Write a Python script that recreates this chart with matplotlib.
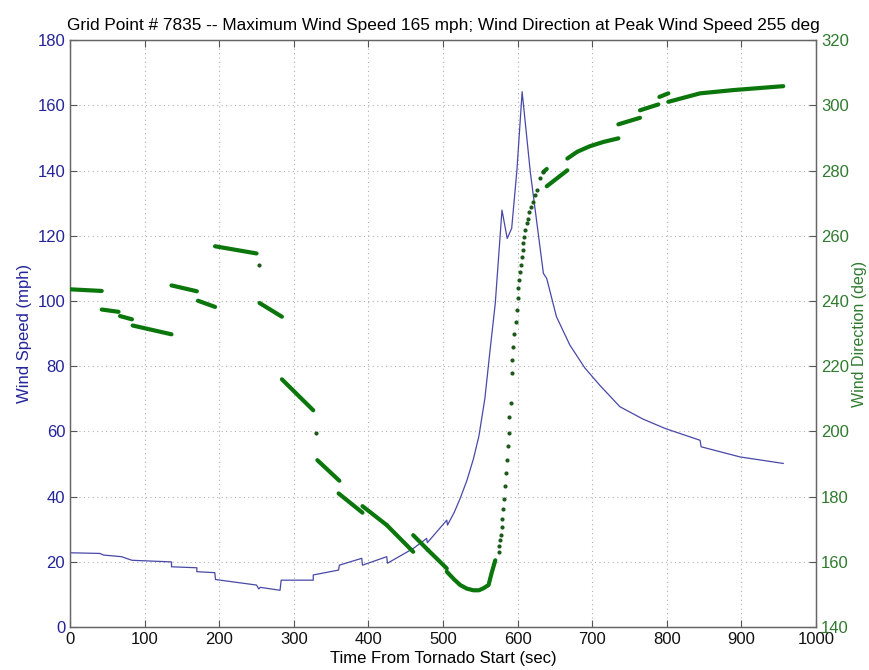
import numpy as np
import matplotlib
matplotlib.use('Agg')
import matplotlib.pyplot as plt

# ======= DATA =================================
TITLE = 'Grid Point # 7835 -- Maximum Wind Speed 165 mph; Wind Direction at Peak Wind Speed 255 deg'

# wind speed trace (sec, mph)
speed_t = [0, 40, 45, 69, 83, 136, 136, 170, 170, 194, 195, 250, 253, 255, 281.5, 283,
           326, 326, 360, 361, 391, 392, 424.5, 425.5, 460, 478, 479, 505, 506,
           515, 523, 532, 540.6, 548, 556, 563, 570, 579, 586, 592, 599, 606,
           617, 634.5, 639, 652, 670, 690, 710, 737, 768, 798, 844.5, 846, 898, 956]
speed_v = [22.8, 22.6, 22.1, 21.6, 20.5, 20.0, 18.5, 18.2, 17.0, 16.7, 14.6, 12.9, 11.7, 12.2, 11.3, 14.4,
           14.4, 16.0, 17.5, 19.0, 21.1, 19.0, 21.6, 19.6, 24.1, 27.2, 25.9, 32.8, 31.3,
           35.2, 39.5, 45.0, 51.5, 58.5, 70.0, 84.9, 99.3, 127.9, 119.2, 122.3, 140.1, 164.2,
           139.5, 108.5, 106.9, 95.2, 86.5, 79.5, 74.2, 67.6, 63.8, 60.9, 57.3, 55.3, 52.2, 50.2]

# wind direction: dense runs of samples (sec, deg)
dir_runs_t = [[0, 42.5], [42.5, 65], [67, 83], [84, 136], [136, 170], [171.5, 194.4],
              [194.4, 250], [254, 284], [284, 326], [331.5, 361], [360, 392], [392, 424.5],
              [424.5, 460], [460, 480], [480, 505],
              [505, 515, 523, 532, 540.6, 548, 554, 561, 565, 570],
              [634.5, 639], [639, 666.6], [666.6, 680, 697, 715, 735], [735, 764], [764, 788.6],
              [790, 802], [802, 844.5, 889, 956]]
dir_runs_v = [[243.6, 243.1], [237.4, 236.7], [235.4, 234.4], [232.5, 229.8], [244.8, 243.0], [240.1, 238.2],
              [256.8, 254.6], [239.4, 235.2], [216.0, 206.5], [191.2, 184.9], [181.0, 175.1], [177.1, 171.3],
              [171.3, 163.1], [168.2, 163.6], [163.6, 158.0],
              [157.0, 154.6, 152.9, 151.8, 151.3, 151.3, 151.9, 152.9, 156.5, 160.5],
              [279.6, 280.5], [275.2, 280.1], [283.7, 285.8, 287.5, 288.8, 289.9], [294.2, 296.2], [298.5, 300.3],
              [302.6, 303.7], [301.1, 303.7, 304.7, 305.9]]

# wind direction: isolated samples where it swings fast
dir_dot_t = [253, 330, 574.6, 575.5, 576.4, 577.7, 578.7, 579.5, 581, 582, 583, 584, 585.4, 587, 588, 589,
             590.7, 592, 593, 594, 595.6, 597.4, 598.7, 600, 601, 602, 603, 604, 605.5, 606.8,
             607.7, 609, 610, 612, 613.5, 615.7, 618, 620, 623, 625.6, 630, 634.5]
dir_dot_v = [251.0, 199.6, 163.1, 164.9, 166.7, 168.2, 170.6, 173.3, 176.1, 179.3, 183.2, 187.3, 191.2, 195.6, 199.4, 204.3,
             208.6, 217.8, 221.9, 226.0, 230.0, 233.6, 237.2, 240.8, 243.9, 246.4, 249.0, 251.0, 253.4, 255.6,
             257.7, 259.7, 261.7, 263.8, 265.3, 267.4, 268.9, 270.4, 272.5, 274.0, 277.6, 279.6]

x_ticks = list(range(0, 1001, 100))
left_ticks = list(range(0, 181, 20))
right_ticks = list(range(140, 321, 20))
# ==========================

BLUE = '#4848a8'
BLUE_TXT = '#24249a'
GREEN = '#0b760b'
GREEN_TXT = '#2f7a2f'

plt.rcParams['font.family'] = ['Liberation Sans', 'DejaVu Sans']

fig = plt.figure(figsize=(8.7, 6.7), dpi=100)
ax = fig.add_axes([0.0805, 0.064, 0.8575, 0.876])
ax2 = ax.twinx()

ax.plot(speed_t, speed_v, color=BLUE, lw=0.9, zorder=3)

for t, v in zip(dir_runs_t, dir_runs_v):
    ax2.plot(t, v, color=GREEN, lw=3.0, solid_capstyle='round', solid_joinstyle='round', zorder=3)
ax2.plot(dir_dot_t, dir_dot_v, 'o', color='#1c5a1c', ms=3.0, mew=0, zorder=3)

ax.set_xlim(0, 1000)
ax.set_ylim(0, 180)
ax2.set_ylim(140, 320)
ax.set_xticks(x_ticks)
ax.set_yticks(left_ticks)
ax2.set_yticks(right_ticks)

ax.grid(True, color='#b0b0b0', linestyle=(0, (1, 3)), linewidth=0.8)

ax.tick_params(axis='x', direction='in', top=True, length=5, labelsize=12, colors='#555555', labelcolor='#111111')
ax.tick_params(axis='y', direction='in', length=5, labelsize=12, colors='#555555', labelcolor=BLUE_TXT)
ax2.tick_params(axis='y', direction='in', length=5, labelsize=12, colors='#555555', labelcolor=GREEN_TXT)
for a in (ax, ax2):
    for s in a.spines.values():
        s.set_color('#666666')
        s.set_linewidth(0.9)

ax.set_ylabel('Wind Speed (mph)', color=BLUE_TXT, fontsize=12, labelpad=4)
ax2.set_ylabel('Wind Direction (deg)', color=GREEN_TXT, fontsize=11.5, labelpad=2)
ax.set_xlabel('Time From Tornado Start (sec)', fontsize=12, labelpad=3)
ax.set_title(TITLE, fontsize=12.4, pad=7)

fig.savefig('out.png', dpi=100)
